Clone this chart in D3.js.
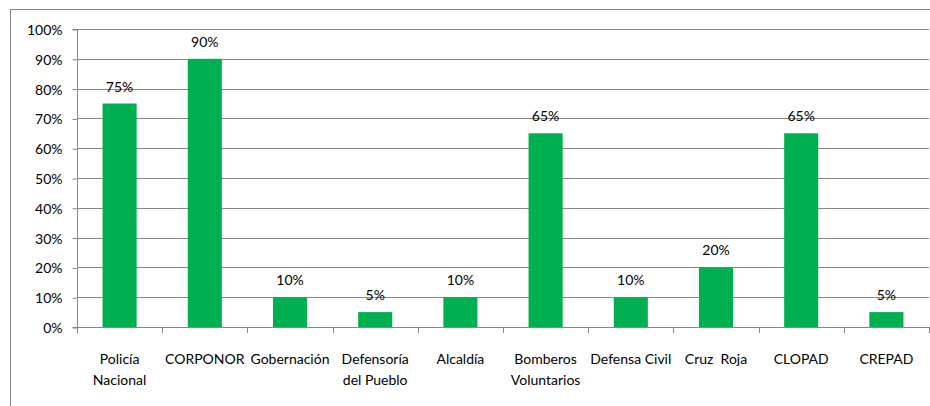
<!DOCTYPE html>
<html>
<head>
<meta charset="utf-8">
<script src="https://cdn.jsdelivr.net/npm/d3@7"></script>
<style>
  html, body { margin: 0; padding: 0; background: #fff; }
  svg { display: block; }
  text { font-family: Lato, "Open Sans", sans-serif; fill: #000; white-space: pre; }
</style>
</head>
<body>
<svg id="chart" width="930" height="406"></svg>
<script>
const categories = [
  ["Policía", "Nacional"],
  ["CORPONOR"],
  ["Gobernación"],
  ["Defensoría", "del Pueblo"],
  ["Alcaldía"],
  ["Bomberos", "Voluntarios"],
  ["Defensa Civil"],
  ["Cruz  Roja"],
  ["CLOPAD"],
  ["CREPAD"]
];
const values = [75, 90, 10, 5, 10, 65, 10, 20, 65, 5];
const yTicks = [0, 10, 20, 30, 40, 50, 60, 70, 80, 90, 100];

const svg = d3.select("#chart");
const margin = { left: 77, top: 29, right: 1, bottom: 79 };

// outer chart border
svg.append("rect")
  .attr("x", 10.5).attr("y", 9.5)
  .attr("width", 940).attr("height", 420)
  .attr("fill", "none").attr("stroke", "#888").attr("stroke-width", 1);

const x = d3.scaleBand()
  .domain(d3.range(categories.length))
  .range([margin.left, 929])
  .paddingInner(0.6).paddingOuter(0.3);

const y = d3.scaleLinear().domain([0, 100]).range([327, 29]);

// gridlines
svg.append("g")
  .selectAll("line")
  .data(yTicks)
  .join("line")
  .attr("x1", margin.left).attr("x2", 929)
  .attr("y1", d => Math.round(y(d)) + 0.5).attr("y2", d => Math.round(y(d)) + 0.5)
  .attr("stroke", "#888").attr("stroke-width", 1);

// y axis
const yAxis = d3.axisLeft(y).tickValues(yTicks).tickSize(5).tickFormat(d => d + "%");
const gy = svg.append("g").attr("transform", `translate(${margin.left + 0.5},0.5)`).call(yAxis);
gy.select(".domain").attr("stroke", "#888").attr("d", `M-5,${Math.round(y(100))}H0V${Math.round(y(0))}H-5`);
gy.selectAll(".tick line").attr("stroke", "#888");
gy.selectAll(".tick text")
  .attr("x", -15).attr("dy", "0.35em")
  .style("font-size", "14px").style("font-family", "Lato, 'Open Sans', sans-serif").attr("fill", "#000");

// x axis ticks (band boundaries)
const bw = x.step();
const boundaries = d3.range(categories.length + 1).map(i => margin.left + i * bw);
svg.append("line")
  .attr("x1", margin.left).attr("x2", 929)
  .attr("y1", Math.round(y(0)) + 0.5).attr("y2", Math.round(y(0)) + 0.5)
  .attr("stroke", "#888");
svg.append("g").selectAll("line")
  .data(boundaries)
  .join("line")
  .attr("x1", d => Math.round(d) + 0.5).attr("x2", d => Math.round(d) + 0.5)
  .attr("y1", Math.round(y(0))).attr("y2", Math.round(y(0)) + 6)
  .attr("stroke", "#888");

// bars
svg.append("g").selectAll("rect")
  .data(values)
  .join("rect")
  .attr("x", (d, i) => x(i))
  .attr("width", x.bandwidth())
  .attr("y", d => y(d))
  .attr("height", d => y(0) - y(d))
  .attr("fill", "#00B050");

// value labels
svg.append("g").selectAll("text")
  .data(values)
  .join("text")
  .attr("x", (d, i) => x(i) + x.bandwidth() / 2)
  .attr("y", d => y(d) - 12)
  .attr("text-anchor", "middle")
  .style("font-size", "14px")
  .text(d => d + "%");

// category labels
const labels = svg.append("g").selectAll("text")
  .data(categories)
  .join("text")
  .attr("x", (d, i) => x(i) + x.bandwidth() / 2)
  .attr("y", 364)
  .attr("text-anchor", "middle")
  .attr("xml:space", "preserve")
  .style("font-size", "14px");
labels.selectAll("tspan")
  .data(d => d)
  .join("tspan")
  .attr("x", function() { return d3.select(this.parentNode).attr("x"); })
  .attr("dy", (d, i) => i === 0 ? 0 : 21)
  .text(d => d);
</script>
</body>
</html>
